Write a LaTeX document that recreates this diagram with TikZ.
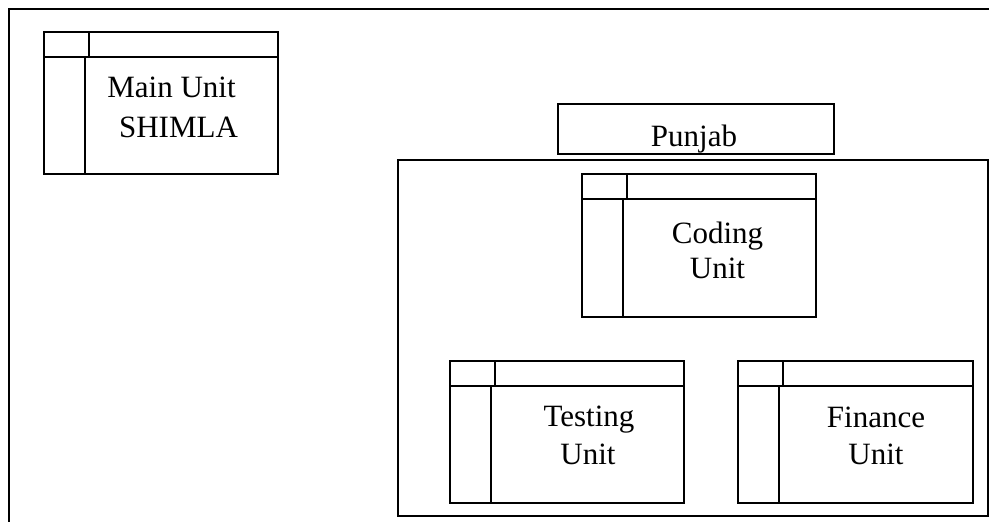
\documentclass[tikz,border=0pt]{standalone}
\usepackage{fontspec}
\setmainfont{Liberation Serif}
\newcommand{\unitlines}[1]{%
  \draw[divline] ([yshift=-26pt]#1.north west) -- ([yshift=-26pt]#1.north east);
  \draw[divline] ([xshift=46pt]#1.north west) -- ([xshift=46pt,yshift=-26pt]#1.north west);
  \draw[divline] ([xshift=42pt,yshift=-26pt]#1.north west) -- ([xshift=42pt]#1.south west);
}
\begin{document}
\begin{tikzpicture}[x=1pt,y=-1pt,
  unitbox/.style={draw, line width=1.7pt, rectangle, inner sep=0pt,
    minimum width=234pt, minimum height=142pt, anchor=north west},
  divline/.style={line width=1.7pt},
  lbl/.style={font=\fontsize{31}{36}\selectfont, anchor=base, inner sep=0pt},
  framebox/.style={draw, line width=2pt, rectangle, inner sep=0pt, anchor=north west}]
\useasboundingbox (0,0) rectangle (989,522);
\fill[white] (0,0) rectangle (989,522);
% outer frame (top and left edges only)
\draw[line width=2.6pt] (9,522) -- (9,9) -- (989,9);
% Main unit
\node[unitbox] (main) at (43,31) {};
\unitlines{main}
\node[lbl] (mainA) at (171.5,97) {Main Unit};
\node[lbl] (mainB) at (178.5,137) {SHIMLA};
% Punjab area
\node[framebox, minimum width=590pt, minimum height=356pt] (area) at (397,159) {};
\begin{scope}
  \clip (557,103) rectangle (833,152);
  \node[lbl] (punjabtxt) at (694,146) {Punjab};
\end{scope}
\node[framebox, line width=1.7pt, minimum width=276pt, minimum height=50pt] (punjab) at (557,103) {};
% Coding unit
\node[unitbox, minimum height=143pt] (coding) at (581,173) {};
\unitlines{coding}
\node[lbl] (codingA) at (717.5,243) {Coding};
\node[lbl] (codingB) at (717.5,278) {Unit};
% Testing unit
\node[unitbox] (testing) at (449,360) {};
\unitlines{testing}
\node[lbl] (testingA) at (589,426) {Testing};
\node[lbl] (testingB) at (588,464) {Unit};
% Finance unit
\node[unitbox, minimum width=235pt] (finance) at (737,360) {};
\unitlines{finance}
\node[lbl] (financeA) at (876,427) {Finance};
\node[lbl] (financeB) at (876,464) {Unit};
\end{tikzpicture}
\end{document}
